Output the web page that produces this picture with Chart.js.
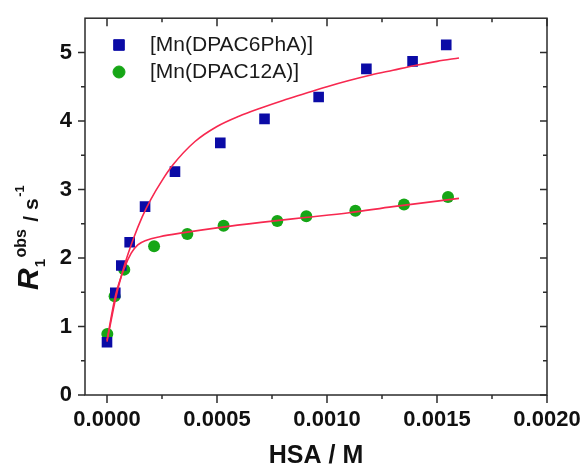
<!DOCTYPE html>
<html>
<head>
<meta charset="utf-8">
<script src="https://cdn.jsdelivr.net/npm/chart.js@4.4.0/dist/chart.umd.min.js"></script>
<style>
  html, body { margin: 0; padding: 0; background: #ffffff; }
  #wrap { width: 586px; height: 473px; }
</style>
</head>
<body>
<div id="wrap"><canvas id="chart" width="586" height="473"></canvas></div>
<script>
// measured points, [Mn(DPAC6PhA)]
const phaX = [0, 0.0000377, 0.000065, 0.000103, 0.000173, 0.000309, 0.000515, 0.000716, 0.000962, 0.001179, 0.001389, 0.001542];
const phaY = [0.77, 1.49, 1.89, 2.23, 2.75, 3.26, 3.68, 4.03, 4.35, 4.76, 4.87, 5.11];

// measured points, [Mn(DPAC12A)]
const c12X = [0.0000014, 0.0000345, 0.0000786, 0.000214, 0.000365, 0.00053, 0.000774, 0.000906, 0.001129, 0.00135, 0.00155];
const c12Y = [0.89, 1.44, 1.83, 2.17, 2.35, 2.47, 2.54, 2.61, 2.69, 2.78, 2.89];

// fitted curves
const phaFitX = [0, 0.00004, 0.00008, 0.00012, 0.00016, 0.0002, 0.00025, 0.0003, 0.0004, 0.0005, 0.0006, 0.0007, 0.0008, 0.0009, 0.001, 0.0011, 0.0012, 0.0013, 0.0014, 0.0015, 0.0016];
const phaFitY = [0.78, 1.42, 1.90, 2.28, 2.60, 2.86, 3.13, 3.36, 3.70, 3.92, 4.07, 4.19, 4.30, 4.40, 4.50, 4.59, 4.67, 4.74, 4.81, 4.87, 4.92];
const c12FitX = [0, 0.00004, 0.00008, 0.00011, 0.00014, 0.00018, 0.00024, 0.00035, 0.0005, 0.0007, 0.0009, 0.0011, 0.0013, 0.0016];
const c12FitY = [0.80, 1.47, 1.86, 2.07, 2.19, 2.26, 2.31, 2.37, 2.44, 2.52, 2.59, 2.66, 2.75, 2.87];

// axes
const xTicks = [0, 0.0005, 0.001, 0.0015, 0.002];
const xMinor = [0.00025, 0.00075, 0.00125, 0.00175];
const yTicks = [0, 1, 2, 3, 4, 5];
const yMinor = [0.5, 1.5, 2.5, 3.5, 4.5];

const labels = ['[Mn(DPAC6PhA)]', '[Mn(DPAC12A)]'];

const BLUE = '#0b0ba6';
const GREEN = '#16a616';
const FIT = '#f7284f';
const AXIS = '#2b2b2b';
const FONT = '"Liberation Sans", Arial, sans-serif';

function toPoints(xs, ys) {
    return xs.map((x, i) => ({ x: x, y: ys[i] }));
}

// frame with mirrored ticks (out on bottom/left, in on top/right)
const framePlugin = {
    id: 'frame',
    afterDraw(chart) {
        const ctx = chart.ctx;
        const a = chart.chartArea;
        const xs = chart.scales.x;
        const ys = chart.scales.y;
        ctx.save();
        ctx.strokeStyle = AXIS;
        ctx.lineWidth = 1.5;
        ctx.strokeRect(a.left, a.top, a.right - a.left, a.bottom - a.top);
        ctx.beginPath();
        const xt = (vals, len) => vals.forEach(v => {
            const px = xs.getPixelForValue(v);
            ctx.moveTo(px, a.bottom); ctx.lineTo(px, a.bottom + len);
            ctx.moveTo(px, a.top); ctx.lineTo(px, a.top + len);
        });
        const yt = (vals, len) => vals.forEach(v => {
            const py = ys.getPixelForValue(v);
            ctx.moveTo(a.left, py); ctx.lineTo(a.left - len, py);
            ctx.moveTo(a.right, py); ctx.lineTo(a.right - len, py);
        });
        xt(xTicks, 8); xt(xMinor, 4);
        yt(yTicks, 7); yt(yMinor, 4);
        ctx.stroke();
        ctx.restore();
    }
};

// legend inside the plot, upper left
const legendPlugin = {
    id: 'innerLegend',
    afterDraw(chart) {
        const ctx = chart.ctx;
        const items = [
            { style: 'rect', radius: 7.5, color: BLUE },
            { style: 'circle', radius: 6, color: GREEN }
        ];
        ctx.save();
        items.forEach((it, i) => {
            const y = 45 + i * 27;
            ctx.fillStyle = it.color;
            ctx.strokeStyle = it.color;
            Chart.helpers.drawPoint(ctx, { pointStyle: it.style, radius: it.radius, rotation: 0, borderWidth: 1 }, 119, y);
            ctx.fillStyle = '#1a1a1a';
            ctx.font = '21px ' + FONT;
            ctx.textBaseline = 'middle';
            ctx.textAlign = 'left';
            ctx.fillText(labels[i], 150, y);
        });
        ctx.restore();
    }
};

// y title with sub/superscripts: R1^obs / s^-1
const yTitlePlugin = {
    id: 'yTitle',
    afterDraw(chart) {
        const ctx = chart.ctx;
        const parts = [
            { t: 'R', f: 'italic bold 30px ', dy: 0 },
            { t: '1', f: 'bold 15px ', dy: 7 },
            { t: 'obs', f: 'bold 16px ', dy: -12 },
            { t: ' / s', f: 'bold 21px ', dy: 0 },
            { t: '-1', f: 'bold 13px ', dy: -14 }
        ];
        ctx.save();
        ctx.translate(38, 290);
        ctx.rotate(-Math.PI / 2);
        ctx.fillStyle = '#111';
        ctx.textBaseline = 'alphabetic';
        ctx.textAlign = 'left';
        let u = 0;
        parts.forEach((p, i) => {
            ctx.font = p.f + FONT;
            ctx.fillText(p.t, u, p.dy);
            u += ctx.measureText(p.t).width + (i === 0 ? 1 : 1.5);
        });
        ctx.restore();
    }
};

const tickFont = { family: FONT, size: 22, weight: 'bold' };

new Chart(document.getElementById('chart'), {
    type: 'scatter',
    data: {
        datasets: [
            {
                label: 'fit DPAC6PhA',
                data: toPoints(phaFitX, phaFitY),
                showLine: true,
                borderColor: FIT,
                borderWidth: 1.6,
                pointRadius: 0,
                cubicInterpolationMode: 'monotone',
                order: 0
            },
            {
                label: 'fit DPAC12A',
                data: toPoints(c12FitX, c12FitY),
                showLine: true,
                borderColor: FIT,
                borderWidth: 1.6,
                pointRadius: 0,
                cubicInterpolationMode: 'monotone',
                order: 0
            },
            {
                label: labels[0],
                data: toPoints(phaX, phaY),
                pointStyle: 'rect',
                pointRadius: 7.5,
                backgroundColor: BLUE,
                borderColor: BLUE,
                borderWidth: 0,
                order: 1
            },
            {
                label: labels[1],
                data: toPoints(c12X, c12Y),
                pointStyle: 'circle',
                pointRadius: 6,
                backgroundColor: GREEN,
                borderColor: GREEN,
                borderWidth: 0,
                order: 1
            }
        ]
    },
    options: {
        responsive: false,
        animation: false,
        layout: { padding: { top: 15, right: 39, left: 0, bottom: 0 } },
        plugins: {
            legend: { display: false },
            tooltip: { enabled: false }
        },
        scales: {
            x: {
                type: 'linear',
                min: -0.0001,
                max: 0.002,
                afterBuildTicks: (s) => { s.ticks = xTicks.map(v => ({ value: v })); },
                afterFit: (s) => { s.height = 78; },
                grid: { display: false, drawTicks: true, tickLength: 8 },
                border: { display: false },
                ticks: {
                    font: tickFont,
                    color: '#111',
                    padding: 4,
                    maxRotation: 0,
                    callback: (v) => v.toFixed(4)
                },
                title: {
                    display: true,
                    text: 'HSA / M',
                    font: { family: FONT, size: 25, weight: 'bold' },
                    color: '#111',
                    padding: { top: 0, bottom: 2 }
                }
            },
            y: {
                min: 0,
                max: 5.5,
                afterBuildTicks: (s) => { s.ticks = yTicks.map(v => ({ value: v })); },
                afterFit: (s) => { s.width = 85; },
                grid: { display: false, drawTicks: true, tickLength: 8 },
                border: { display: false },
                ticks: {
                    font: tickFont,
                    color: '#111',
                    padding: 5
                }
            }
        }
    },
    plugins: [framePlugin, legendPlugin, yTitlePlugin]
});
</script>
</body>
</html>
